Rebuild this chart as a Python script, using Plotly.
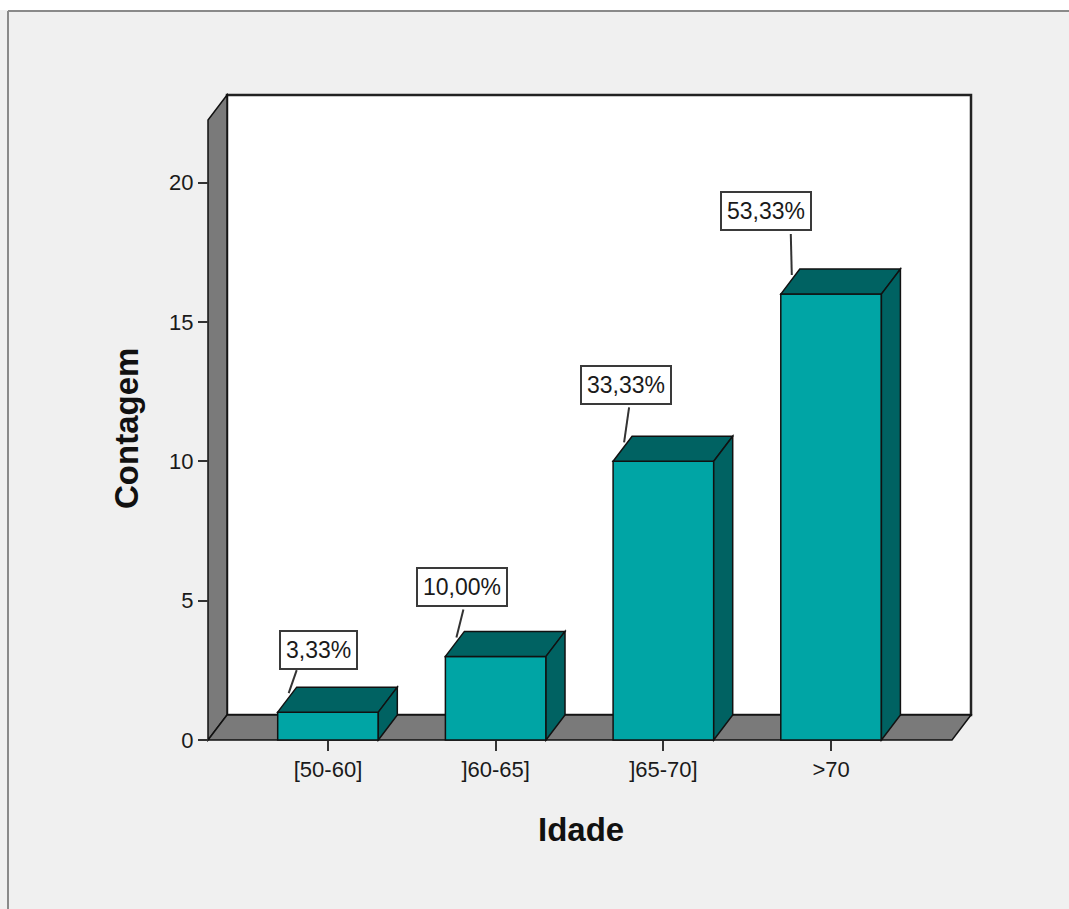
import plotly.graph_objects as go

# ---- data ----
categories = ["[50-60]", "]60-65]", "]65-70]", ">70"]
counts = [1, 3, 10, 16]
y_tick_values = [0, 5, 10, 15, 20]

total = sum(counts)
pct_labels = [f"{c / total * 100:.2f}".replace(".", ",") + "%" for c in counts]

# ---- styling ----
FRONT = "#00a5a5"
SHADE = "#006262"
WALL = "#7a7a7a"
EDGE = "#111111"
BG = "#f0f0f0"
FONT = "Liberation Sans, Arial, sans-serif"

# ---- geometry (pixels) ----
W, H = 1069, 909
ML, MR, MT, MB = 200, 91, 87, 161
PW, PH = W - ML - MR, H - MT - MB
PX_PER_CAT = 167.7        # horizontal pixels per category step
PX_PER_UNIT = 27.87       # vertical pixels per count unit
AXIS_X_PX, ZERO_PX, FIRST_CAT_PX = 208, 740, 328
FRONT_RIGHT_PX, BACK_TOP_PX = 952, 95
BAR_W = 0.6

x_lo = -(FIRST_CAT_PX - ML) / PX_PER_CAT
x_hi = x_lo + PW / PX_PER_CAT
y_lo = -(H - MB - ZERO_PX) / PX_PER_UNIT
y_hi = y_lo + PH / PX_PER_UNIT


def dxu(px):
    return px / PX_PER_CAT


def dyu(px):
    return px / PX_PER_UNIT


def paper_x(px):
    return (px - ML) / PW


def paper_y(py):
    return (H - MB - py) / PH


DEPTH_X, DEPTH_Y = dxu(19), dyu(25)
xf0 = x_lo + dxu(AXIS_X_PX - ML)
xf1 = xf0 + dxu(FRONT_RIGHT_PX - AXIS_X_PX)
yb_top = dyu(ZERO_PX - BACK_TOP_PX)
yf_top = yb_top - DEPTH_Y


def poly(points):
    return "M " + " L ".join(f"{x},{y}" for x, y in points) + " Z"


shapes = []
# back wall
shapes.append(dict(type="rect", xref="x", yref="y", layer="below",
                   x0=xf0 + DEPTH_X, x1=xf1 + DEPTH_X, y0=DEPTH_Y, y1=yb_top,
                   fillcolor="white", line=dict(color="#222222", width=2.5)))
# left side wall
shapes.append(dict(type="path", xref="x", yref="y", layer="below",
                   path=poly([(xf0, 0), (xf0, yf_top), (xf0 + DEPTH_X, yb_top),
                              (xf0 + DEPTH_X, DEPTH_Y)]),
                   fillcolor=WALL, line=dict(color=EDGE, width=1.5)))
# floor
shapes.append(dict(type="path", xref="x", yref="y", layer="below",
                   path=poly([(xf0, 0), (xf1, 0), (xf1 + DEPTH_X, DEPTH_Y),
                              (xf0 + DEPTH_X, DEPTH_Y)]),
                   fillcolor=WALL, line=dict(color=EDGE, width=1.5)))

# bar tops and right sides
for i, v in enumerate(counts):
    l, r = i - BAR_W / 2, i + BAR_W / 2
    shapes.append(dict(type="path", xref="x", yref="y", layer="above",
                       path=poly([(l, v), (l + DEPTH_X, v + DEPTH_Y),
                                  (r + DEPTH_X, v + DEPTH_Y), (r, v)]),
                       fillcolor=SHADE, line=dict(color=EDGE, width=1.5)))
    shapes.append(dict(type="path", xref="x", yref="y", layer="above",
                       path=poly([(r, 0), (r, v), (r + DEPTH_X, v + DEPTH_Y),
                                  (r + DEPTH_X, DEPTH_Y)]),
                       fillcolor=SHADE, line=dict(color=EDGE, width=1.5)))

# percentage callouts: leader line offset and box offset (pixels)
leader_offsets = [(8, 23), (7, 28), (5, 35), (-1, 41)]
box_offsets = [(21.5, 20), (-1, 22), (-3, 22), (-25, 23)]
annotations = []
for i, v in enumerate(counts):
    ex = i - BAR_W / 2 + dxu(11)
    ey = v + dyu(19)
    lx, ly = leader_offsets[i]
    bx, by = box_offsets[i]
    shapes.append(dict(type="line", xref="x", yref="y", layer="above",
                       x0=ex, y0=ey, x1=ex + dxu(lx), y1=ey + dyu(ly),
                       line=dict(color="#333333", width=2)))
    annotations.append(dict(x=ex, y=ey, xref="x", yref="y", showarrow=False,
                            text=pct_labels[i], xshift=lx + bx, yshift=ly + by,
                            xanchor="center", yanchor="middle",
                            bgcolor="white", bordercolor="#3a3a3a",
                            borderwidth=2, borderpad=5,
                            font=dict(family=FONT, size=23, color="#1a1a1a")))

# axis titles
annotations.append(dict(text="<b>Contagem</b>", xref="paper", yref="paper",
                        x=paper_x(127), y=paper_y(429), showarrow=False,
                        textangle=-90, xanchor="center", yanchor="middle",
                        font=dict(family=FONT, size=33, color="#111111")))
annotations.append(dict(text="<b>Idade</b>", xref="paper", yref="paper",
                        x=paper_x(581), y=paper_y(829), showarrow=False,
                        xanchor="center", yanchor="middle",
                        font=dict(family=FONT, size=33, color="#111111")))

# outer frame
shapes.append(dict(type="rect", xref="paper", yref="paper", layer="below",
                   x0=paper_x(0), x1=paper_x(W), y0=paper_y(0), y1=paper_y(10),
                   fillcolor="white", line=dict(width=0)))
shapes.append(dict(type="line", xref="paper", yref="paper",
                   x0=paper_x(8), x1=paper_x(W), y0=paper_y(11), y1=paper_y(11),
                   line=dict(color="#8a8a8a", width=2)))
shapes.append(dict(type="line", xref="paper", yref="paper",
                   x0=paper_x(8), x1=paper_x(8), y0=paper_y(11), y1=paper_y(H),
                   line=dict(color="#8a8a8a", width=2)))

fig = go.Figure(go.Bar(
    x=list(range(len(categories))), y=counts, width=BAR_W,
    marker=dict(color=FRONT, line=dict(color=EDGE, width=1.5)),
    hoverinfo="skip",
))

fig.update_layout(
    width=W, height=H,
    margin=dict(l=ML, r=MR, t=MT, b=MB),
    paper_bgcolor=BG, plot_bgcolor=BG,
    showlegend=False,
    shapes=shapes,
    annotations=annotations,
    font=dict(family=FONT, size=22, color="#1a1a1a"),
    xaxis=dict(range=[x_lo, x_hi], tickvals=list(range(len(categories))),
               ticktext=categories, ticks="outside", ticklen=10, tickwidth=2,
               tickcolor="#333333", showgrid=False, zeroline=False,
               showline=False, anchor="free", position=paper_y(ZERO_PX),
               tickfont=dict(family=FONT, size=22, color="#1a1a1a"),
               fixedrange=True),
    yaxis=dict(range=[y_lo, y_hi], tickvals=y_tick_values, ticks="outside",
               ticklen=10, tickwidth=1.5, tickcolor="#333333", showgrid=False,
               zeroline=False, showline=False, anchor="free",
               position=paper_x(AXIS_X_PX),
               tickfont=dict(family=FONT, size=22, color="#1a1a1a"),
               fixedrange=True),
)

fig.write_html("out.html")
